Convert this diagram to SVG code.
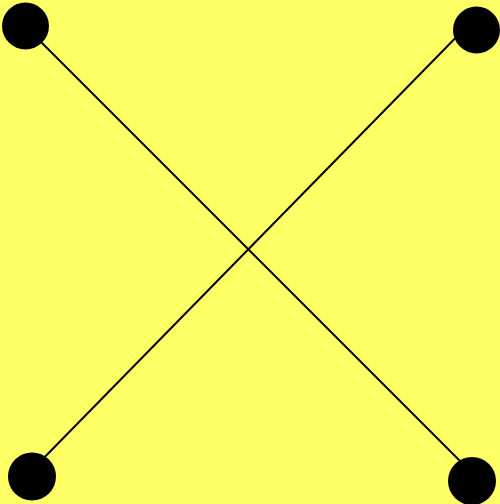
<svg xmlns="http://www.w3.org/2000/svg" width="500" height="504" viewBox="0 0 500 504">
<style>
.edge{stroke:#000;stroke-width:2;fill:none}
.node{fill:#000}
</style>
<rect x="0" y="0" width="500" height="504" fill="#ffff66"/>
<g id="connectors">
<line class="edge" x1="25" y1="26" x2="472" y2="473"/>
<line class="edge" x1="32" y1="470" x2="476" y2="17"/>
</g>
<g id="node-tl"><circle class="node" cx="25.5" cy="26" r="23.5"/></g>
<g id="node-tr"><circle class="node" cx="476.5" cy="30" r="23.5"/></g>
<g id="node-bl"><circle class="node" cx="32" cy="476.5" r="24"/></g>
<g id="node-br"><circle class="node" cx="472" cy="481" r="24"/></g>
</svg>
